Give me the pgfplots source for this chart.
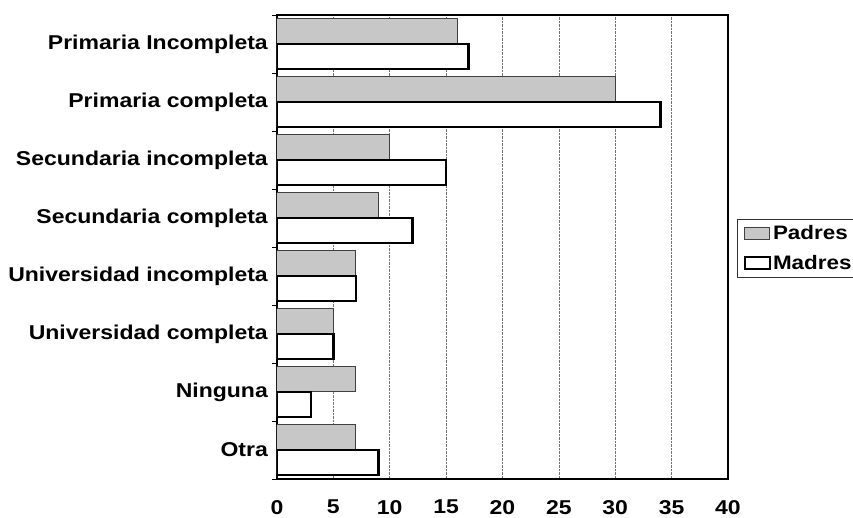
\documentclass[border=0pt]{standalone}
\usepackage{pgfplots}
\pgfplotsset{compat=1.18}
\usepackage{fontspec}
\setmainfont{Liberation Sans}[FakeStretch=1.15]
\pgfplotstableread{
y padres madres
7 16 17
6 30 34
5 10 15
4 9 12
3 7 7
2 5 5
1 7 3
0 7 9
}\datatable
\begin{document}
\begin{tikzpicture}[x=1pt,y=1pt]
\begin{axis}[
  at={(0,0)}, anchor=south west,
  width=451pt, height=464pt, scale only axis,
  xmin=0, xmax=40, ymin=-0.5, ymax=7.5,
  xtick={0,5,...,40},
  ytick={0,...,7},
  yticklabels={Otra, Ninguna, Universidad completa, Universidad incompleta, Secundaria completa, Secundaria incompleta, Primaria completa, Primaria Incompleta},
  minor ytick={-0.5,0.5,...,7.5},
  tick pos=left,
  major tick length=0pt,
  minor tick length=5pt,
  tick align=outside,
  minor tick style={black, line width=0.8pt},
  /pgf/number format/assume math mode=true,
  ticklabel style={font=\bfseries\fontsize{20}{22}\selectfont, inner sep=0pt},
  yticklabel style={anchor=east, xshift=-9pt},
  xticklabel style={anchor=north, yshift=-21pt},
  xmajorgrids,
  major grid style={densely dotted, black!55, line width=0.7pt},
  axis line style={black, line width=1.2pt},
  xbar,
  bar width=25pt,
  legend style={at={(1,0.497)}, anchor=west, xshift=9pt,
    draw=black!80, line width=1pt,
    font=\bfseries\fontsize{19.5}{21}\selectfont,
    inner xsep=6pt, inner ysep=4pt, row sep=10pt,
    cells={anchor=west}},
  legend image code/.code={\draw[#1] (0pt,-6pt) rectangle (25pt,6pt);},
  legend cell align=left,
]
\addplot[bar shift=12.5pt, fill=black!22, draw=black!75, line width=1pt] table[x=padres, y=y] {\datatable};
\addplot[bar shift=-12.5pt, fill=white, draw=black, line width=2.5pt] table[x=madres, y=y] {\datatable};
\legend{Padres, Madres}
\end{axis}
\pgfresetboundingbox
\path[use as bounding box] (-277,-39) rectangle (576,479);
\end{tikzpicture}
\end{document}
